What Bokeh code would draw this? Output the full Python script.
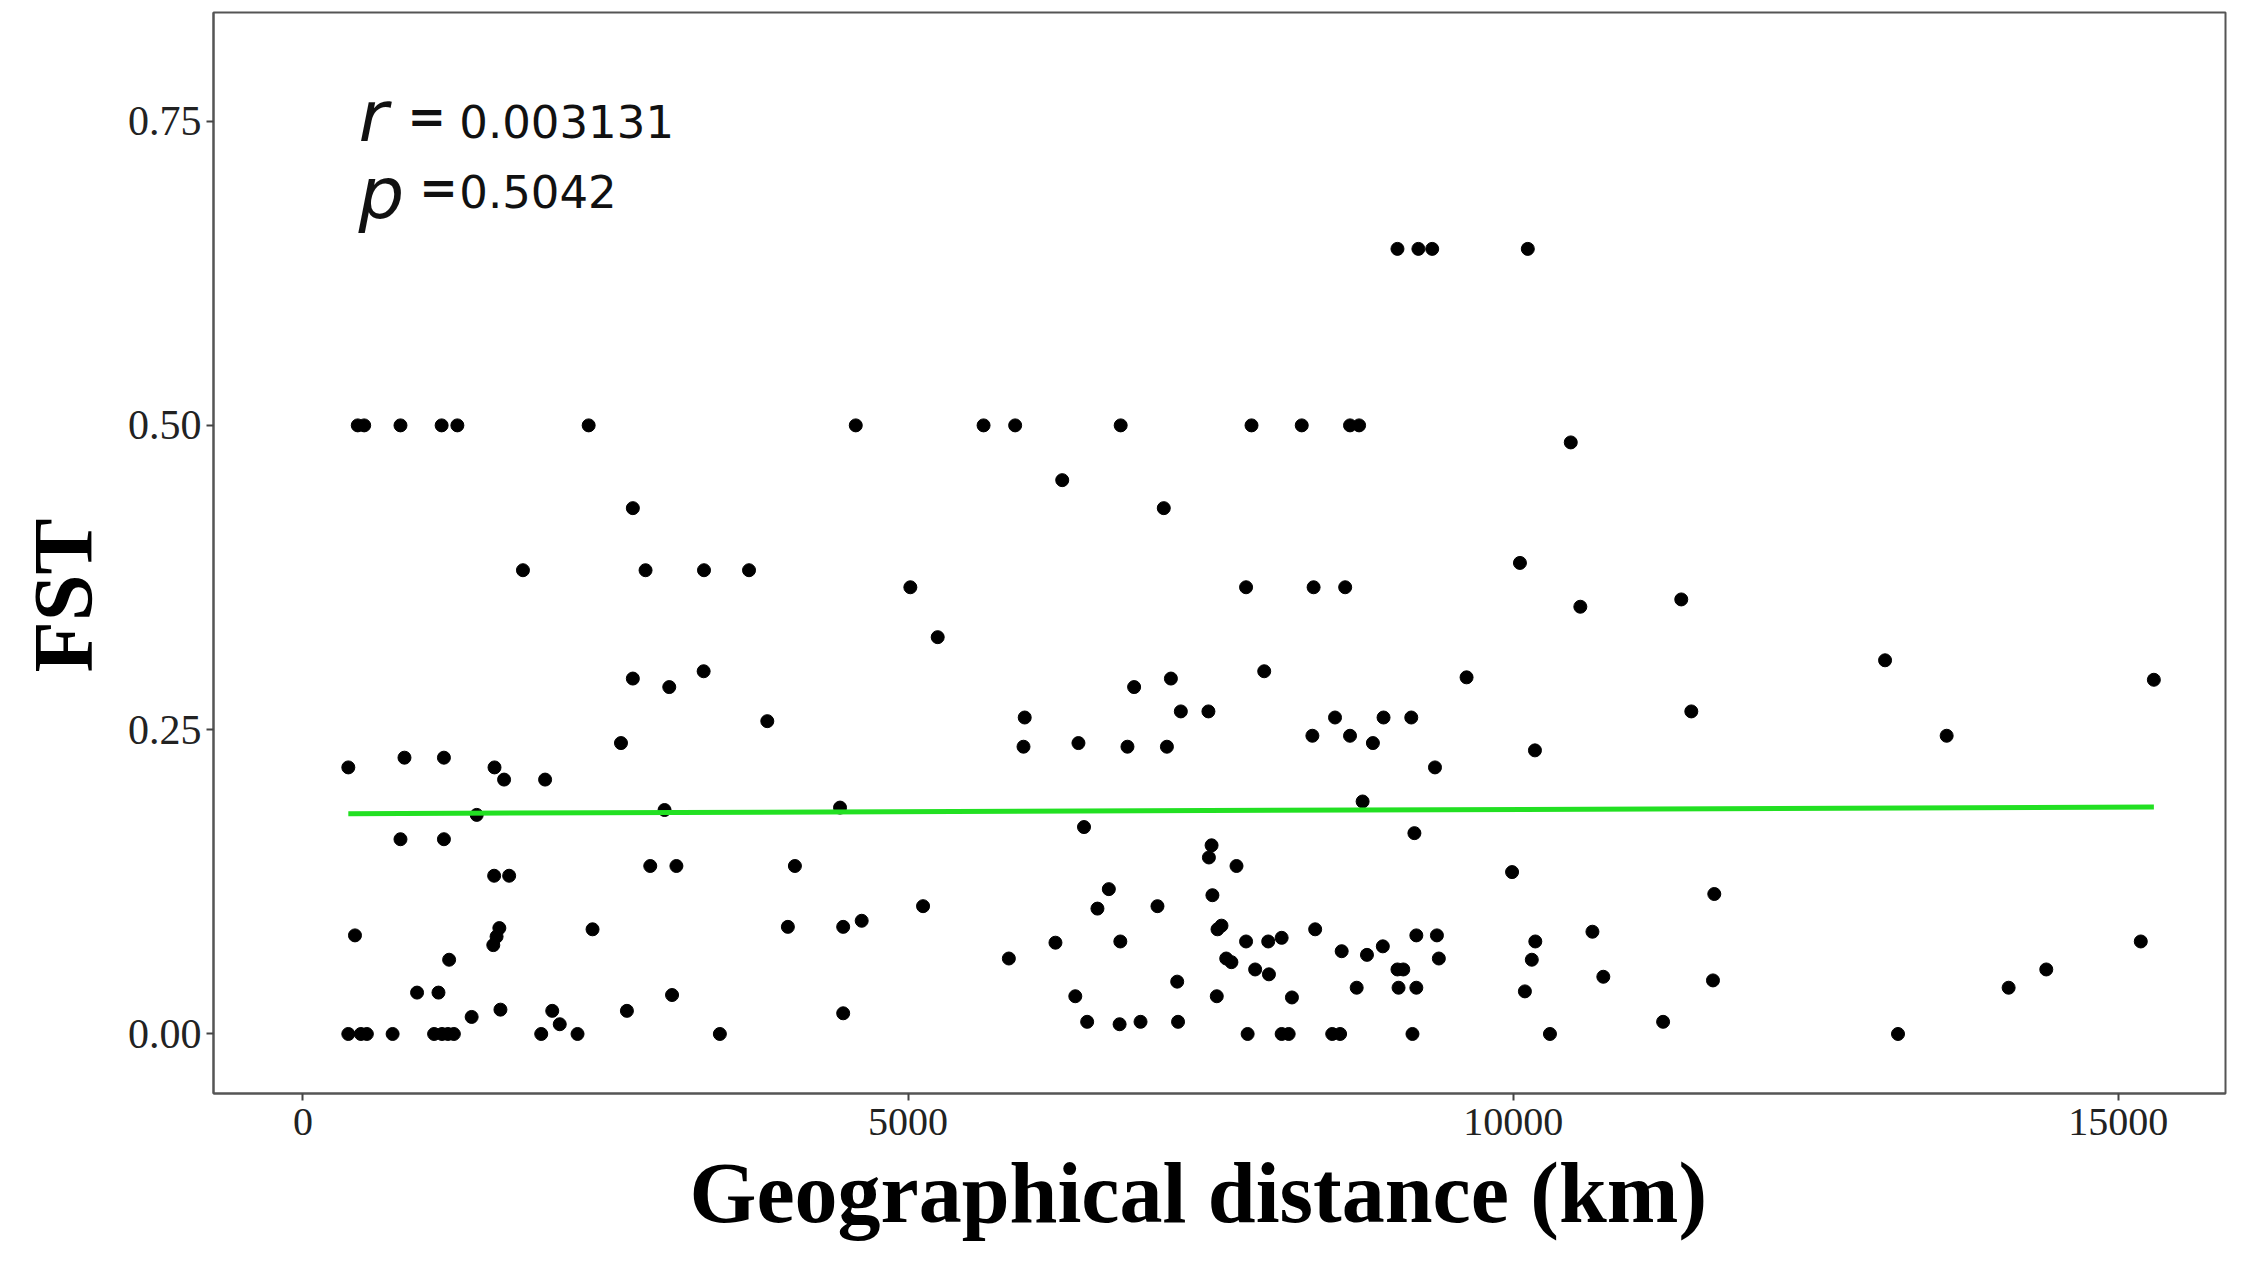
from bokeh.plotting import figure
from bokeh.models import ColumnDataSource, FixedTicker, Label, NumeralTickFormatter, Title
from bokeh.embed import file_html
from bokeh.resources import INLINE

# ---- data ----
dist_km = [
    453, 506, 806, 1146, 1276, 2361, 4568, 5624, 5885, 6757, 7838, 8253, 8652, 8727,
    2726, 1818, 2831, 3314, 3686, 5019, 9044, 9217, 9331, 10121, 6274, 7113, 10056,
    7793, 8351, 8612, 10476, 10555, 11389, 5245,
    3311, 2726, 3027, 3837, 2628, 839, 1165, 375, 1583, 1662, 2001, 1436, 2988, 4438,
    806, 1165, 2870, 3086, 4065, 1580, 1704, 5124, 4617, 4007, 4464, 1623, 1600, 1573,
    430, 2393, 1208, 943, 1120, 3050, 2677, 4464, 1632, 2060, 1394, 2122,
    375, 479, 528, 741, 1084, 1149, 1198, 1247, 1969, 2269, 3445,
    7943, 7172, 6868, 9615, 5964, 7254, 7482, 8528, 8929, 9158, 8341, 8652, 8841, 5954,
    6408, 6813, 7139, 10180, 9354, 8756, 6454, 9184, 7508, 7486, 7714, 9991, 6659, 7515,
    6565, 7061, 7590, 7557, 8364, 9200, 9370, 10183, 6218, 6754, 7793, 7976, 8087, 5833,
    8583, 8792, 8923, 9386, 10154, 7629, 7672, 7868, 7982, 9044, 9092, 7224, 6382, 7551,
    8707, 9053, 9200, 8172, 10097, 6480, 6748, 6921, 7231, 7806, 8087, 8145, 8505, 8570, 9168,
    11472, 13073, 13582, 15294, 11662, 10655, 10745, 11651, 15186, 14405, 14094, 10304,
    11239, 13180,
]
fst = [
    0.500, 0.500, 0.500, 0.500, 0.500, 0.500, 0.500, 0.500, 0.500, 0.500, 0.500, 0.500, 0.500, 0.500,
    0.432, 0.381, 0.381, 0.381, 0.381, 0.367, 0.645, 0.645, 0.645, 0.645, 0.455, 0.432, 0.387,
    0.367, 0.367, 0.367, 0.486, 0.351, 0.357, 0.326,
    0.298, 0.292, 0.285, 0.257, 0.239, 0.227, 0.227, 0.219, 0.219, 0.209, 0.209, 0.180, 0.184, 0.186,
    0.160, 0.160, 0.138, 0.138, 0.138, 0.130, 0.130, 0.105, 0.093, 0.088, 0.088, 0.087, 0.080, 0.073,
    0.081, 0.086, 0.061, 0.034, 0.034, 0.032, 0.019, 0.017, 0.020, 0.019, 0.014, 0.008,
    0.0, 0.0, 0.0, 0.0, 0.0, 0.0, 0.0, 0.0, 0.0, 0.0, 0.0,
    0.298, 0.292, 0.285, 0.293, 0.260, 0.265, 0.265, 0.260, 0.260, 0.260, 0.245, 0.245, 0.239, 0.236,
    0.239, 0.236, 0.236, 0.233, 0.219, 0.191, 0.170, 0.165, 0.155, 0.145, 0.138, 0.133, 0.119, 0.114,
    0.103, 0.105, 0.089, 0.086, 0.086, 0.081, 0.081, 0.076, 0.075, 0.076, 0.076, 0.076, 0.079, 0.062,
    0.068, 0.065, 0.072, 0.062, 0.061, 0.062, 0.059, 0.053, 0.049, 0.053, 0.053, 0.043, 0.031, 0.031,
    0.038, 0.038, 0.038, 0.030, 0.035, 0.010, 0.008, 0.010, 0.010, 0.0, 0.0, 0.0, 0.0, 0.0, 0.0,
    0.265, 0.307, 0.245, 0.291, 0.115, 0.084, 0.047, 0.044, 0.076, 0.053, 0.038, 0.0,
    0.010, 0.0,
]
fit_x = [375, 15294]
fit_y = [0.181, 0.1864]

x_ticks = [0, 5000, 10000, 15000]
x_tick_labels = ["0", "5000", "10000", "15000"]
y_ticks = [0, 0.25, 0.5, 0.75]
y_tick_labels = ["0.00", "0.25", "0.50", "0.75"]

x_title = "Geographical distance (km)"
y_title = "FST"
stat_r = "0.003131"
stat_p = "0.5042"

# ---- figure ----
p = figure(width=2227, height=1246, output_backend="svg", toolbar_location=None,
           x_range=(-739, 15886), y_range=(-0.0489, 0.8392),
           min_border_left=212, min_border_right=2, min_border_top=12,
           min_border_bottom=153)
p.background_fill_color = "white"
p.border_fill_color = "white"
p.grid.visible = False
p.outline_line_color = "#555555"
p.outline_line_width = 2

src = ColumnDataSource(dict(dist=dist_km, fst=fst))
p.scatter(x="dist", y="fst", source=src, size=13, color="black")
p.line(fit_x, fit_y, line_color="#22e022", line_width=5)

for ax in (p.xaxis[0], p.yaxis[0]):
    ax.axis_line_color = "#555555"
    ax.axis_line_width = 2
    ax.major_tick_line_color = "#444444"
    ax.major_tick_line_width = 2
    ax.major_tick_out = 7
    ax.major_tick_in = 0
    ax.minor_tick_line_color = None
    ax.major_label_text_font = "Liberation Serif"
    ax.major_label_text_color = "#222222"

p.xaxis.ticker = FixedTicker(ticks=x_ticks)
p.xaxis.major_label_overrides = dict(zip(x_ticks, x_tick_labels))
p.xaxis.major_label_text_font_size = "40px"
p.xaxis.major_label_standoff = 8

p.yaxis.ticker = FixedTicker(ticks=y_ticks)
p.yaxis.formatter = NumeralTickFormatter(format="0.00")
p.yaxis.major_label_overrides = dict(zip(y_ticks, y_tick_labels))
p.yaxis.major_label_text_font_size = "42px"
p.yaxis.major_label_standoff = 5

# ---- axis titles as side panels (slightly off-centre like the reference) ----
p.add_layout(Title(text=x_title, align="left", offset=476, standoff=10,
                   text_font="Liberation Serif", text_font_style="bold",
                   text_font_size="86px", text_color="black"), "below")
p.add_layout(Title(text=y_title, align="left", offset=421, standoff=29,
                   text_font="Liberation Serif", text_font_style="bold",
                   text_font_size="84px", text_color="black"), "left")

# ---- statistics annotation ----
def stat_label(x, y, text, size, style="normal"):
    p.add_layout(Label(x=x, y=y, text=text, text_font="DejaVu Sans",
                       text_font_style=style, text_font_size=size,
                       text_baseline="alphabetic", text_color="#111111"))

stat_label(460, 0.754, "r", "72px", "italic")
stat_label(863, 0.7535, "=", "46px", "bold")
stat_label(1292, 0.750, stat_r, "45px")
stat_label(460, 0.6906, "p", "72px", "italic")
stat_label(962, 0.695, "=", "46px", "bold")
stat_label(1292, 0.692, stat_p, "45px")

open("out.html", "w").write(file_html(p, INLINE))
